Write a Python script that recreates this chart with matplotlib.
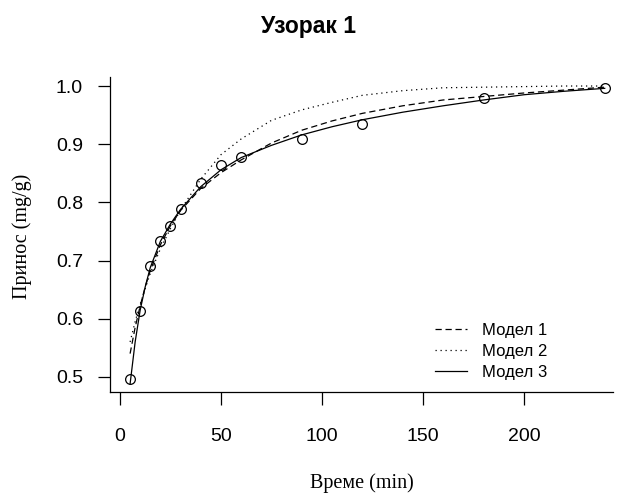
##################################################
## Import useful packages
##################################################
import numpy as np                # numerical
import matplotlib.pyplot as plt   # plt graph

##################################################
## Data
##################################################
# measured points
t_obs = [5, 10, 15, 20, 25, 30, 40, 50, 60, 90, 120, 180, 240]
q_obs = [0.497, 0.614, 0.690, 0.734, 0.759, 0.789, 0.833, 0.864, 0.878,
         0.909, 0.935, 0.979, 0.997]

# model curves
t_mod = [5, 7.5, 10, 12.5, 15, 20, 25, 30, 40, 50, 60, 75, 90, 105, 120,
         140, 160, 180, 200, 220, 240]
q_mod1 = [0.540, 0.585, 0.622, 0.655, 0.683, 0.727, 0.760, 0.786, 0.824,
          0.851, 0.873, 0.902, 0.924, 0.940, 0.953, 0.966, 0.976, 0.982,
          0.988, 0.993, 0.998]
q_mod2 = [0.560, 0.595, 0.625, 0.652, 0.678, 0.720, 0.755, 0.787, 0.840,
          0.882, 0.909, 0.941, 0.959, 0.972, 0.984, 0.992, 0.997, 0.998,
          0.999, 1.000, 1.000]
q_mod3 = [0.488, 0.560, 0.615, 0.655, 0.688, 0.733, 0.763, 0.788, 0.827,
          0.856, 0.877, 0.898, 0.916, 0.930, 0.942, 0.955, 0.966, 0.976,
          0.985, 0.991, 0.996]

labels = ["Модел 1", "Модел 2", "Модел 3"]
x_ticks = [0, 50, 100, 150, 200]
y_ticks = [0.5, 0.6, 0.7, 0.8, 0.9, 1.0]

##################################################
## Figure
##################################################
W, H = 617, 495
fig = plt.figure(figsize=(W / 100, H / 100), dpi=100)
ax = fig.add_axes([110 / W, 1 - 392 / H, (613 - 110) / W, (392 - 77) / H])

sans = "Liberation Sans"
serif = "Liberation Serif"

# curves
ax.plot(t_mod, q_mod1, color="black", lw=0.9, dashes=(5, 3), label=labels[0])
ax.plot(t_mod, q_mod2, color="black", lw=0.9, dashes=(1, 3), label=labels[1])
ax.plot(t_mod, q_mod3, color="black", lw=0.9, label=labels[2])
ax.plot(t_obs, q_obs, linestyle="none", marker="o", markersize=7,
        markerfacecolor="none", markeredgecolor="black", markeredgewidth=0.9)

# axes
ax.set_xlim(-4.95, 244.1)
ax.set_ylim(0.474, 1.0155)
ax.spines["top"].set_visible(False)
ax.spines["right"].set_visible(False)
for s in ["left", "bottom"]:
    ax.spines[s].set_linewidth(0.9)
ax.set_xticks(x_ticks)
ax.set_yticks(y_ticks)
ax.set_yticklabels(["{:.1f}".format(v) for v in y_ticks])
ax.tick_params(axis="both", direction="out", length=9, width=0.9,
               labelsize=14)
ax.tick_params(axis="x", pad=17)
ax.tick_params(axis="y", pad=10.5)
for lab in ax.get_xticklabels() + ax.get_yticklabels():
    lab.set_fontfamily(sans)

# titles
fig.text(0.5, 1 - 26 / H, "Узорак 1", ha="center", va="center",
         fontsize=16.5, fontweight="bold", family=sans)
fig.text((110 + 613) / 2 / W, 1 - 483 / H, "Време (min)", ha="center",
         va="center", fontsize=14.5, family=serif)
fig.text(22 / W, 1 - 236 / H, "Принос (mg/g)", ha="center", va="center",
         rotation=90, fontsize=14.5, family=serif)

# legend
leg = ax.legend(loc="upper left", bbox_to_anchor=(435 / W, 1 - 323 / H),
                bbox_transform=fig.transFigure, frameon=False,
                borderpad=0, borderaxespad=0, handlelength=1.9,
                handletextpad=0.9, labelspacing=0.35,
                prop={"family": sans, "size": 12})

fig.savefig("out.png", dpi=100)
